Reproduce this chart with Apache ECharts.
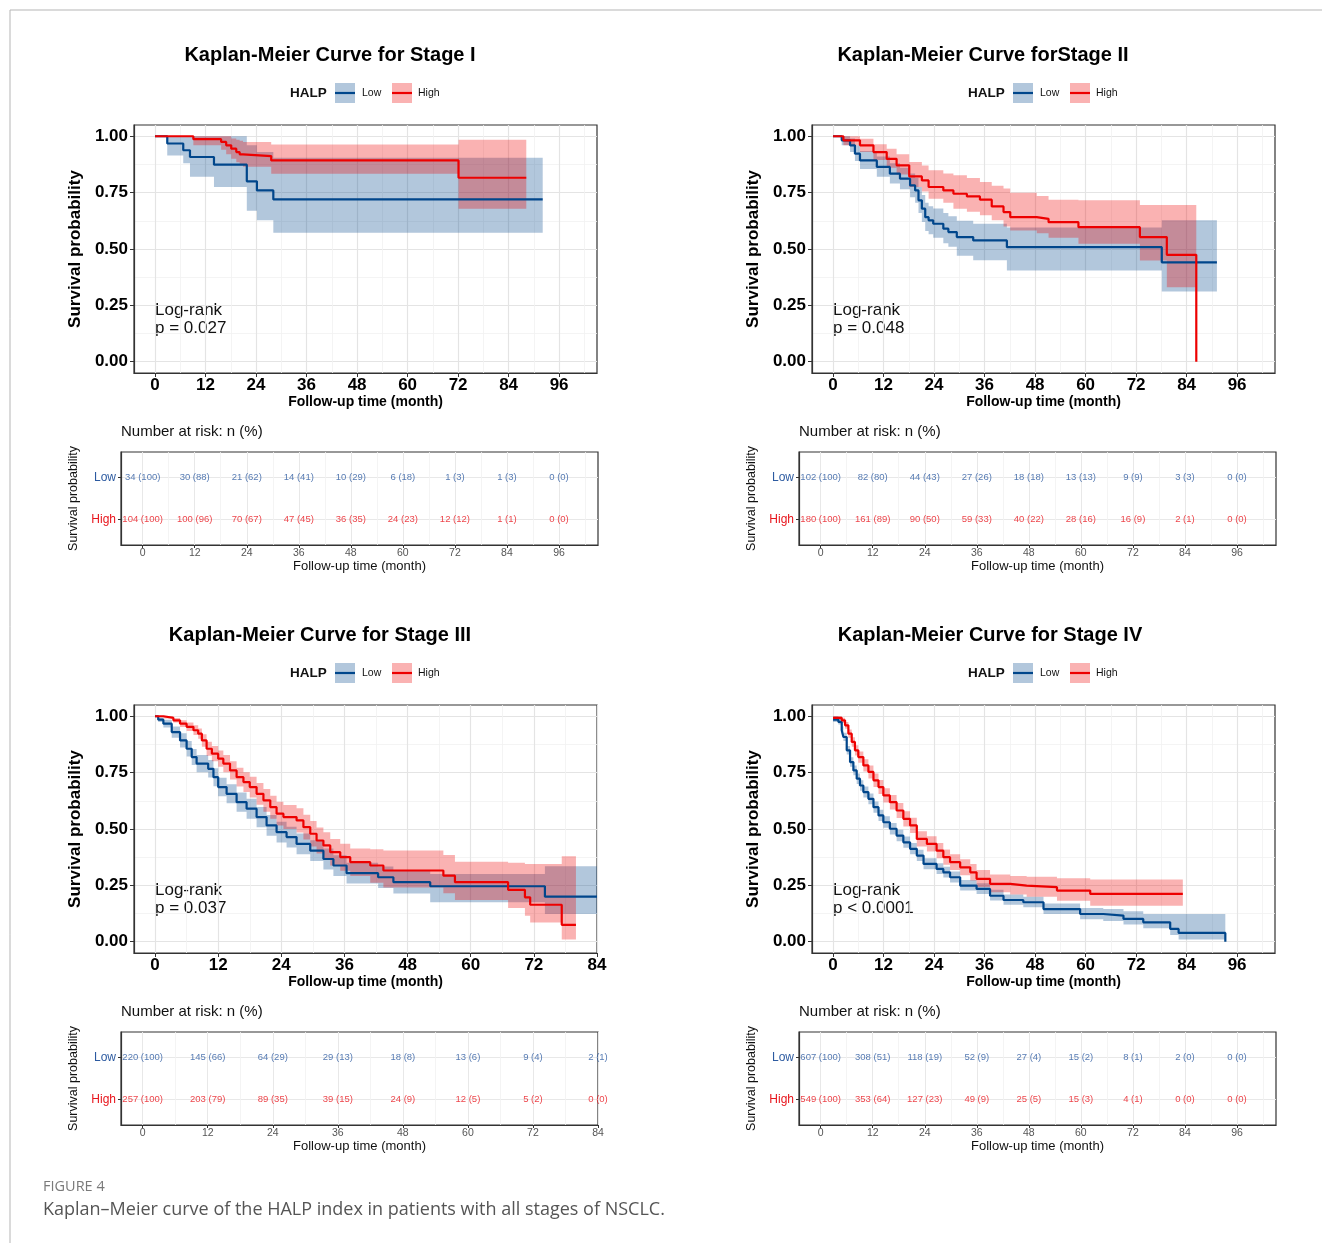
<!DOCTYPE html>
<html>
<head>
<meta charset="utf-8">
<script src="https://cdn.jsdelivr.net/npm/echarts@6/dist/echarts.min.js"></script>
<style>
  body { margin: 0; background: #fff; }
  #chart { width: 1322px; height: 1243px; }
</style>
</head>
<body>
<div id="chart"></div>
<script>
// ---- text ----
var panelTitles = ['Kaplan-Meier Curve for Stage I', 'Kaplan-Meier Curve forStage II',
                   'Kaplan-Meier Curve for Stage III', 'Kaplan-Meier Curve for Stage IV'];
var pValues = ['p = 0.027', 'p = 0.048', 'p = 0.037', 'p < 0.0001'];

// ---- axis ticks ----
var ticks96 = [0, 12, 24, 36, 48, 60, 72, 84, 96];
var minor96 = [6, 18, 30, 42, 54, 66, 78, 90, 102];
var ticks84 = [0, 12, 24, 36, 48, 60, 72, 84];
var minor84 = [6, 18, 30, 42, 54, 66, 78];
var survTicks = [0, 0.25, 0.5, 0.75, 1];
var survMinor = [0.125, 0.375, 0.625, 0.875];

// ---- Stage I ----
var s1LowTime  = [0, 2.9, 6.7, 8.3, 14.0, 21.8, 24.2, 28.1, 92.1];
var s1LowSurv  = [1.0, 0.968, 0.938, 0.908, 0.874, 0.80, 0.76, 0.72, 0.72];
var s1LowLower = [1.0, 0.915, 0.88, 0.82, 0.775, 0.67, 0.627, 0.572, 0.572];
var s1LowUpper = [1.0, 1.0, 1.0, 1.0, 1.0, 0.96, 0.93, 0.905, 0.905];
var s1HighTime  = [0, 9.1, 15.7, 16.9, 18.1, 19.3, 20.1, 20.9, 27.6, 72.1, 88.2];
var s1HighSurv  = [1.0, 0.987, 0.975, 0.96, 0.945, 0.93, 0.92, 0.912, 0.893, 0.816, 0.816];
var s1HighLower = [1.0, 0.96, 0.94, 0.92, 0.90, 0.885, 0.875, 0.865, 0.834, 0.679, 0.679];
var s1HighUpper = [1.0, 1.0, 1.0, 1.0, 0.99, 0.985, 0.98, 0.975, 0.964, 0.985, 0.985];
var s1RiskLowN = [34, 30, 21, 14, 10, 6, 1, 1, 0];
var s1RiskLowPct = [100, 88, 62, 41, 29, 18, 3, 3, 0];
var s1RiskHighN = [104, 100, 70, 47, 36, 24, 12, 1, 0];
var s1RiskHighPct = [100, 96, 67, 45, 35, 23, 12, 1, 0];

// ---- Stage II ----
var s2LowTime  = [0, 2.06, 4.04, 5.2, 6.4, 10.4, 13.5, 15.9, 18.3, 19.5, 20.3, 21.1, 21.9, 22.7, 23.8, 26.2, 27.4, 29.4, 33.3, 41.3, 78.1, 91.2];
var s2LowSurv  = [1.0, 0.982, 0.96, 0.923, 0.893, 0.864, 0.834, 0.812, 0.782, 0.76, 0.716, 0.679, 0.641, 0.627, 0.612, 0.59, 0.575, 0.553, 0.538, 0.508, 0.441, 0.441];
var s2LowLower = [1.0, 0.96, 0.93, 0.89, 0.855, 0.82, 0.79, 0.765, 0.73, 0.705, 0.66, 0.62, 0.58, 0.565, 0.55, 0.525, 0.51, 0.47, 0.45, 0.405, 0.311, 0.311];
var s2LowUpper = [1.0, 1.0, 0.99, 0.96, 0.935, 0.91, 0.88, 0.86, 0.835, 0.815, 0.775, 0.74, 0.705, 0.69, 0.68, 0.66, 0.645, 0.625, 0.612, 0.595, 0.627, 0.627];
var s2HighTime  = [0, 2.46, 6.4, 9.6, 12.75, 15.1, 18.1, 21.1, 22.7, 26.2, 28.6, 31.8, 34.9, 37.7, 40.5, 42.1, 48.4, 51.2, 58.3, 72.9, 79.3, 86.3];
var s2HighSurv  = [1.0, 0.982, 0.96, 0.93, 0.90, 0.871, 0.822, 0.804, 0.775, 0.76, 0.745, 0.733, 0.719, 0.689, 0.664, 0.641, 0.634, 0.619, 0.597, 0.553, 0.474, 0.0];
var s2HighLower = [1.0, 0.96, 0.93, 0.895, 0.86, 0.83, 0.775, 0.755, 0.723, 0.705, 0.679, 0.665, 0.65, 0.627, 0.60, 0.582, 0.57, 0.55, 0.523, 0.449, 0.33, 0.33];
var s2HighUpper = [1.0, 1.0, 0.989, 0.965, 0.945, 0.92, 0.886, 0.87, 0.849, 0.835, 0.827, 0.815, 0.797, 0.78, 0.768, 0.75, 0.735, 0.719, 0.716, 0.695, 0.695, 0.695];
var s2RiskLowN = [102, 82, 44, 27, 18, 13, 9, 3, 0];
var s2RiskLowPct = [100, 80, 43, 26, 18, 13, 9, 3, 0];
var s2RiskHighN = [180, 161, 90, 59, 40, 28, 16, 2, 0];
var s2RiskHighPct = [100, 89, 50, 33, 22, 16, 9, 1, 0];

// ---- Stage III ----
var s3LowTime  = [0, 0.6, 1.58, 3.17, 4.75, 6.0, 6.97, 7.9, 10.1, 11.1, 12.0, 13.6, 15.5, 17.4, 19.3, 21.2, 23.1, 25.0, 26.9, 29.5, 32.0, 33.9, 36.4, 42.4, 45.3, 52.3, 74.1, 84];
var s3LowSurv  = [1.0, 0.985, 0.967, 0.93, 0.893, 0.856, 0.819, 0.79, 0.767, 0.73, 0.686, 0.656, 0.619, 0.59, 0.553, 0.516, 0.486, 0.464, 0.434, 0.404, 0.367, 0.338, 0.304, 0.286, 0.264, 0.246, 0.2, 0.2];
var s3LowLower = [1.0, 0.975, 0.95, 0.905, 0.862, 0.822, 0.784, 0.752, 0.728, 0.69, 0.645, 0.614, 0.576, 0.546, 0.508, 0.47, 0.44, 0.418, 0.388, 0.358, 0.32, 0.292, 0.258, 0.238, 0.214, 0.175, 0.123, 0.123];
var s3LowUpper = [1.0, 0.995, 0.985, 0.955, 0.925, 0.89, 0.855, 0.828, 0.806, 0.77, 0.727, 0.698, 0.662, 0.634, 0.598, 0.562, 0.532, 0.51, 0.48, 0.45, 0.414, 0.384, 0.35, 0.334, 0.314, 0.3, 0.335, 0.335];
var s3HighTime  = [0, 1.6, 3.48, 4.75, 6.0, 7.3, 8.2, 8.9, 9.8, 10.8, 12.0, 12.98, 14.25, 15.5, 16.8, 18.0, 19.3, 20.6, 21.9, 23.1, 24.4, 26.9, 28.2, 29.5, 30.7, 32.0, 33.3, 35.2, 37.1, 40.9, 43.4, 54.8, 57.0, 67.1, 70.3, 71.3, 77.3, 80.0];
var s3HighSurv  = [1.0, 0.993, 0.982, 0.967, 0.953, 0.938, 0.923, 0.893, 0.856, 0.834, 0.812, 0.79, 0.76, 0.73, 0.708, 0.686, 0.656, 0.627, 0.597, 0.568, 0.553, 0.538, 0.508, 0.479, 0.449, 0.427, 0.397, 0.375, 0.353, 0.338, 0.316, 0.293, 0.264, 0.23, 0.197, 0.164, 0.075, 0.075];
var s3HighLower = [1.0, 0.99, 0.972, 0.952, 0.935, 0.917, 0.9, 0.865, 0.825, 0.8, 0.776, 0.752, 0.72, 0.688, 0.664, 0.64, 0.608, 0.577, 0.546, 0.515, 0.5, 0.484, 0.453, 0.422, 0.391, 0.368, 0.338, 0.315, 0.292, 0.262, 0.24, 0.215, 0.185, 0.15, 0.115, 0.085, 0.01, 0.01];
var s3HighUpper = [1.0, 1.0, 0.992, 0.982, 0.972, 0.96, 0.946, 0.92, 0.887, 0.868, 0.848, 0.828, 0.8, 0.772, 0.752, 0.732, 0.704, 0.677, 0.648, 0.621, 0.606, 0.592, 0.563, 0.536, 0.507, 0.486, 0.456, 0.435, 0.414, 0.41, 0.405, 0.385, 0.355, 0.35, 0.345, 0.345, 0.379, 0.379];
var s3RiskLowN = [220, 145, 64, 29, 18, 13, 9, 2];
var s3RiskLowPct = [100, 66, 29, 13, 8, 6, 4, 1];
var s3RiskHighN = [257, 203, 89, 39, 24, 12, 5, 0];
var s3RiskHighPct = [100, 79, 35, 15, 9, 5, 2, 0];

// ---- Stage IV ----
var s4LowTime  = [0, 1.27, 2.06, 2.46, 3.25, 4.04, 4.83, 5.62, 6.4, 7.2, 8.4, 9.6, 10.8, 11.95, 13.5, 15.1, 16.7, 18.3, 19.9, 21.5, 24.6, 26.2, 27.8, 30.2, 34.1, 37.3, 40.5, 45.2, 50.0, 58.7, 64.2, 69.0, 73.7, 80.1, 82.1, 93.2];
var s4LowSurv  = [0.985, 0.975, 0.938, 0.908, 0.849, 0.797, 0.76, 0.723, 0.693, 0.664, 0.634, 0.597, 0.56, 0.53, 0.501, 0.471, 0.441, 0.412, 0.382, 0.345, 0.323, 0.308, 0.286, 0.249, 0.234, 0.204, 0.185, 0.175, 0.145, 0.123, 0.116, 0.101, 0.086, 0.057, 0.039, 0.0];
var s4LowLower = [0.975, 0.963, 0.922, 0.89, 0.83, 0.776, 0.738, 0.7, 0.67, 0.64, 0.61, 0.572, 0.535, 0.505, 0.476, 0.446, 0.417, 0.388, 0.358, 0.322, 0.3, 0.285, 0.263, 0.227, 0.212, 0.183, 0.164, 0.153, 0.123, 0.1, 0.092, 0.076, 0.06, 0.03, 0.01, 0.0];
var s4LowUpper = [1.0, 0.99, 0.955, 0.927, 0.868, 0.818, 0.782, 0.746, 0.716, 0.688, 0.658, 0.622, 0.585, 0.556, 0.527, 0.497, 0.467, 0.438, 0.408, 0.37, 0.348, 0.333, 0.311, 0.274, 0.259, 0.23, 0.21, 0.2, 0.17, 0.15, 0.145, 0.135, 0.123, 0.123, 0.123, 0.123];
var s4HighTime  = [0, 2.06, 2.85, 3.64, 4.44, 5.2, 6.0, 7.2, 8.4, 9.6, 10.8, 11.95, 13.5, 15.1, 16.7, 18.3, 19.9, 22.3, 24.6, 26.2, 27.8, 30.2, 32.6, 34.1, 37.3, 42.1, 46.0, 53.2, 61.1, 83.1];
var s4HighSurv  = [0.993, 0.982, 0.96, 0.923, 0.886, 0.849, 0.819, 0.782, 0.753, 0.716, 0.686, 0.649, 0.619, 0.582, 0.545, 0.516, 0.456, 0.434, 0.404, 0.375, 0.353, 0.33, 0.308, 0.279, 0.257, 0.249, 0.242, 0.227, 0.212, 0.212];
var s4HighLower = [0.985, 0.97, 0.945, 0.905, 0.865, 0.826, 0.794, 0.755, 0.724, 0.686, 0.655, 0.617, 0.587, 0.549, 0.511, 0.482, 0.422, 0.4, 0.37, 0.341, 0.318, 0.295, 0.272, 0.243, 0.22, 0.21, 0.2, 0.182, 0.16, 0.16];
var s4HighUpper = [1.0, 0.993, 0.975, 0.941, 0.907, 0.872, 0.844, 0.809, 0.782, 0.746, 0.717, 0.681, 0.651, 0.615, 0.579, 0.55, 0.49, 0.468, 0.438, 0.409, 0.388, 0.366, 0.345, 0.318, 0.298, 0.292, 0.288, 0.282, 0.276, 0.276];
var s4RiskLowN = [607, 308, 118, 52, 27, 15, 8, 2, 0];
var s4RiskLowPct = [100, 51, 19, 9, 4, 2, 1, 0, 0];
var s4RiskHighN = [549, 353, 127, 49, 25, 15, 4, 0, 0];
var s4RiskHighPct = [100, 64, 23, 9, 5, 3, 1, 0, 0];

// ---- styles ----
var FONT = '"Liberation Sans", Arial, sans-serif';
var LOW_COLOR = '#00468B';
var HIGH_COLOR = '#ED0000';
var LOW_TEXT = '#2C5AA0';
var HIGH_TEXT = '#E8141B';

var panels = [
    {xMin: -5, xMax: 105, ticks: ticks96, minor: minor96,
     low: [s1LowTime, s1LowSurv, s1LowLower, s1LowUpper], high: [s1HighTime, s1HighSurv, s1HighLower, s1HighUpper],
     risk: [s1RiskLowN, s1RiskLowPct, s1RiskHighN, s1RiskHighPct], titleX: 330},
    {xMin: -5, xMax: 105, ticks: ticks96, minor: minor96,
     low: [s2LowTime, s2LowSurv, s2LowLower, s2LowUpper], high: [s2HighTime, s2HighSurv, s2HighLower, s2HighUpper],
     risk: [s2RiskLowN, s2RiskLowPct, s2RiskHighN, s2RiskHighPct], titleX: 983},
    {xMin: -4, xMax: 84, ticks: ticks84, minor: minor84,
     low: [s3LowTime, s3LowSurv, s3LowLower, s3LowUpper], high: [s3HighTime, s3HighSurv, s3HighLower, s3HighUpper],
     risk: [s3RiskLowN, s3RiskLowPct, s3RiskHighN, s3RiskHighPct], titleX: 320},
    {xMin: -5, xMax: 105, ticks: ticks96, minor: minor96,
     low: [s4LowTime, s4LowSurv, s4LowLower, s4LowUpper], high: [s4HighTime, s4HighSurv, s4HighLower, s4HighUpper],
     risk: [s4RiskLowN, s4RiskLowPct, s4RiskHighN, s4RiskHighPct], titleX: 990}
];

function zip(a, b) {
    return a.map(function (v, i) { return [v, b[i]]; });
}

var grids = [], xAxes = [], yAxes = [], series = [], graphics = [];

function minorAxis(g, min, max, vals) {
    return {
        type: 'value', gridIndex: g, min: min, max: max,
        axisLine: {show: false}, axisLabel: {show: false},
        axisTick: {show: false, customValues: vals},
        splitLine: {show: true, lineStyle: {color: '#f1f1f1', width: 0.8}}
    };
}

// step-shaped confidence band drawn as one polygon through the axes
function bandSeries(xi, yi, d, color) {
    var t = d[0], lo = d[2], up = d[3];
    return {
        type: 'custom', xAxisIndex: xi, yAxisIndex: yi, silent: true, clip: true, z: 2,
        data: zip(t, up),
        renderItem: function (params, api) {
            if (params.dataIndex !== 0) return null;
            var pts = [], i, tn;
            for (i = 0; i < t.length; i++) {
                tn = i + 1 < t.length ? t[i + 1] : t[i];
                pts.push(api.coord([t[i], up[i]]), api.coord([tn, up[i]]));
            }
            for (i = t.length - 1; i >= 0; i--) {
                tn = i + 1 < t.length ? t[i + 1] : t[i];
                pts.push(api.coord([tn, lo[i]]), api.coord([t[i], lo[i]]));
            }
            return {type: 'polygon', shape: {points: pts}, style: {fill: color, opacity: 0.3}};
        }
    };
}

function text(x, y, str, size, weight, color, align, extra) {
    var st = {text: str, fontSize: size, fontWeight: weight, fontFamily: FONT, fill: color,
              align: align || 'left', verticalAlign: 'middle'};
    if (extra) { for (var k in extra) { st[k] = extra[k]; } }
    return {type: 'text', x: x, y: y, style: st, silent: true};
}

panels.forEach(function (p, k) {
    var ox = (k % 2) * 678, oy = Math.floor(k / 2) * 580;

    // --- main KM plot ---
    var gMain = grids.length;
    grids.push({left: 134 + ox, top: 125 + oy, width: 463, height: 248, show: true,
                backgroundColor: '#fff', borderColor: '#333', borderWidth: 1.2, outerBoundsMode: 'none'});
    var xi = xAxes.length;
    xAxes.push({
        type: 'value', gridIndex: gMain, min: p.xMin, max: p.xMax,
        axisLine: {show: true, onZero: false, lineStyle: {color: '#333', width: 1.2}},
        axisTick: {show: true, length: 4, customValues: p.ticks, lineStyle: {color: '#333'}},
        axisLabel: {customValues: p.ticks, margin: 4, fontSize: 17, fontWeight: 'bold', color: '#000', fontFamily: FONT},
        splitLine: {show: true, lineStyle: {color: '#e4e4e4', width: 1.2}},
        name: 'Follow-up time (month)', nameLocation: 'middle', nameGap: 22,
        nameTextStyle: {fontSize: 14, fontWeight: 'bold', color: '#000', fontFamily: FONT}
    });
    xAxes.push(minorAxis(gMain, p.xMin, p.xMax, p.minor));
    var yi = yAxes.length;
    yAxes.push({
        type: 'value', gridIndex: gMain, min: -0.05, max: 1.05,
        axisLine: {show: true, onZero: false, lineStyle: {color: '#333', width: 1.2}},
        axisTick: {show: true, length: 4, customValues: survTicks, lineStyle: {color: '#333'}},
        axisLabel: {customValues: survTicks, margin: 6, fontSize: 17, fontWeight: 'bold', color: '#000', fontFamily: FONT,
                    formatter: function (v) { return (+v).toFixed(2); }},
        splitLine: {show: true, lineStyle: {color: '#e4e4e4', width: 1.2}},
        name: 'Survival probability', nameLocation: 'middle', nameGap: 50, nameRotate: 90,
        nameTextStyle: {fontSize: 17, fontWeight: 'bold', color: '#000', fontFamily: FONT}
    });
    yAxes.push(minorAxis(gMain, -0.05, 1.05, survMinor));

    // confidence bands, then curves
    series.push(bandSeries(xi, yi, p.low, LOW_COLOR));
    series.push(bandSeries(xi, yi, p.high, HIGH_COLOR));
    [[p.low, LOW_COLOR], [p.high, HIGH_COLOR]].forEach(function (c) {
        series.push({type: 'line', xAxisIndex: xi, yAxisIndex: yi, data: zip(c[0][0], c[0][1]), step: 'end',
                     symbol: 'none', silent: true, z: 4,
                     lineStyle: {color: c[1], width: 2.2}, itemStyle: {color: c[1]}});
    });

    // --- risk table ---
    var gRisk = grids.length;
    grids.push({left: 121 + ox, top: 452 + oy, width: 477, height: 93, show: true,
                backgroundColor: '#fff', borderColor: '#333', borderWidth: 1.2, outerBoundsMode: 'none'});
    var xr = xAxes.length;
    xAxes.push({
        type: 'value', gridIndex: gRisk, min: p.xMin, max: p.xMax,
        axisLine: {show: true, onZero: false, lineStyle: {color: '#333', width: 1.2}},
        axisTick: {show: true, length: 3, customValues: p.ticks, lineStyle: {color: '#333'}},
        axisLabel: {customValues: p.ticks, margin: 3, fontSize: 10.5, color: '#555', fontFamily: FONT},
        splitLine: {show: true, lineStyle: {color: '#e8e8e8', width: 1}},
        name: 'Follow-up time (month)', nameLocation: 'middle', nameGap: 15,
        nameTextStyle: {fontSize: 13, color: '#111', fontFamily: FONT}
    });
    xAxes.push(minorAxis(gRisk, p.xMin, p.xMax, p.minor));
    var yr = yAxes.length;
    yAxes.push({
        type: 'value', gridIndex: gRisk, min: 0.4, max: 2.6,
        axisLine: {show: true, onZero: false, lineStyle: {color: '#333', width: 1.2}},
        axisTick: {show: true, length: 3, customValues: [1, 2], lineStyle: {color: '#333'}},
        axisLabel: {customValues: [1, 2], margin: 5, fontFamily: FONT,
                    formatter: function (v) { return +v === 2 ? '{lo|Low}' : '{hi|High}'; },
                    rich: {lo: {color: LOW_TEXT, fontSize: 12, fontFamily: FONT},
                           hi: {color: HIGH_TEXT, fontSize: 12, fontFamily: FONT}}},
        splitLine: {show: true, lineStyle: {color: '#e8e8e8', width: 1}},
        name: 'Survival probability', nameLocation: 'middle', nameGap: 41, nameRotate: 90,
        nameTextStyle: {fontSize: 12.5, color: '#111', fontFamily: FONT}
    });
    [[p.risk[0], p.risk[1], 2, LOW_TEXT], [p.risk[2], p.risk[3], 1, HIGH_TEXT]].forEach(function (r) {
        series.push({
            type: 'scatter', xAxisIndex: xr, yAxisIndex: yr, symbolSize: 1, silent: true,
            itemStyle: {color: 'rgba(0,0,0,0)'},
            data: p.ticks.map(function (t, i) { return [t, r[2], r[0][i] + ' (' + r[1][i] + ')']; }),
            label: {show: true, position: 'inside', color: r[3], fontSize: 9.5, fontFamily: FONT,
                    formatter: function (q) { return q.data[2]; }}
        });
    });

    // --- titles, legend, annotations ---
    graphics.push(text(p.titleX, 55 + oy, panelTitles[k], 20, 'bold', '#000', 'center'));
    var lx = (k % 2 ? 968 : 290), ly = 93 + oy;
    graphics.push(text(lx, ly, 'HALP', 13.5, 'bold', '#111'));
    graphics.push({type: 'rect', shape: {x: lx + 45, y: ly - 10, width: 20, height: 20},
                   style: {fill: LOW_COLOR, opacity: 0.3}, silent: true});
    graphics.push({type: 'line', shape: {x1: lx + 45, y1: ly, x2: lx + 65, y2: ly},
                   style: {stroke: LOW_COLOR, lineWidth: 2.2}, silent: true});
    graphics.push(text(lx + 72, ly, 'Low', 10.5, 'normal', '#111'));
    graphics.push({type: 'rect', shape: {x: lx + 102, y: ly - 10, width: 20, height: 20},
                   style: {fill: HIGH_COLOR, opacity: 0.3}, silent: true});
    graphics.push({type: 'line', shape: {x1: lx + 102, y1: ly, x2: lx + 122, y2: ly},
                   style: {stroke: HIGH_COLOR, lineWidth: 2.2}, silent: true});
    graphics.push(text(lx + 128, ly, 'High', 10.5, 'normal', '#111'));

    graphics.push(text(155 + ox, 310 + oy, 'Log-rank', 17, 'normal', '#111'));
    graphics.push(text(155 + ox, 328 + oy, pValues[k], 17, 'normal', '#111'));
    graphics.push(text(121 + ox, 432 + oy, 'Number at risk: n (%)', 15, 'normal', '#111'));
});

// page frame and caption
graphics.push({type: 'line', shape: {x1: 10, y1: 10, x2: 1322, y2: 10}, style: {stroke: '#b5b5b5', lineWidth: 1}, silent: true});
graphics.push({type: 'line', shape: {x1: 10, y1: 10, x2: 10, y2: 1243}, style: {stroke: '#b5b5b5', lineWidth: 1}, silent: true});
graphics.push(text(43, 1187, 'FIGURE 4', 14.5, 'normal', '#7a7a7a', 'left', {fontFamily: '"Open Sans", sans-serif'}));
graphics.push(text(43, 1210, 'Kaplan\u2013Meier curve of the HALP index in patients with all stages of NSCLC.', 18, 'normal', '#555',
                   'left', {fontFamily: '"Open Sans", sans-serif'}));

var myChart = echarts.init(document.getElementById('chart'), null, {renderer: 'canvas'});
myChart.setOption({
    animation: false,
    backgroundColor: '#fff',
    grid: grids,
    xAxis: xAxes,
    yAxis: yAxes,
    series: series,
    graphic: {elements: graphics}
});
</script>
</body>
</html>
